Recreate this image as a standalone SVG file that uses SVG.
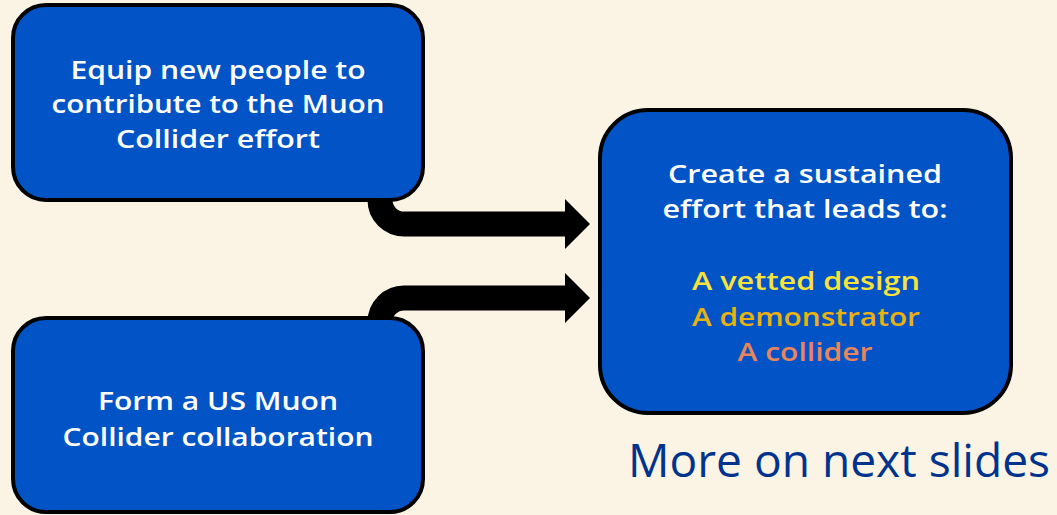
<svg xmlns="http://www.w3.org/2000/svg" width="1057" height="515" viewBox="0 0 1057 515">
<style>
.box{fill:#0254C6;stroke:#000;stroke-width:4}
.t{font-family:"Open Sans","Noto Sans","Liberation Sans",sans-serif;font-size:26px;font-weight:600;text-anchor:middle;fill:#fff}
.conn{fill:none;stroke:#000;stroke-width:25}
.head{fill:#000}
</style>
<rect width="1057" height="515" fill="#FBF3E3"/>
<g id="connectors">
<path class="conn" d="M380,185 L380,200 A24,24 0 0 0 404,224 L567,224"/>
<polygon class="head" points="565,199 590,224 565,249"/>
<path class="conn" d="M380,335 L380,322 A24,24 0 0 1 404,298 L567,298"/>
<polygon class="head" points="565,273 590,298 565,323"/>
</g>
<g id="node-equip">
<rect class="box" x="13" y="5" width="410" height="195" rx="33"/>
<text class="t" x="218" y="79" textLength="295" lengthAdjust="spacingAndGlyphs">Equip new people to</text>
<text class="t" x="218" y="113" textLength="333" lengthAdjust="spacingAndGlyphs">contribute to the Muon</text>
<text class="t" x="218" y="148" textLength="204" lengthAdjust="spacingAndGlyphs">Collider effort</text>
</g>
<g id="node-form">
<rect class="box" x="13" y="318" width="410" height="194" rx="33"/>
<text class="t" x="218" y="410" textLength="240" lengthAdjust="spacingAndGlyphs">Form a US Muon</text>
<text class="t" x="218" y="446" textLength="311" lengthAdjust="spacingAndGlyphs">Collider collaboration</text>
</g>
<g id="node-create">
<rect class="box" x="600" y="110" width="411" height="303" rx="48"/>
<text class="t" x="805" y="183" textLength="274" lengthAdjust="spacingAndGlyphs">Create a sustained</text>
<text class="t" x="805" y="218" textLength="285" lengthAdjust="spacingAndGlyphs">effort that leads to:</text>
<text class="t" x="806" y="290" style="fill:#F9E23A" textLength="228" lengthAdjust="spacingAndGlyphs">A vetted design</text>
<text class="t" x="806" y="326" style="fill:#E9B20E" textLength="228" lengthAdjust="spacingAndGlyphs">A demonstrator</text>
<text class="t" x="805" y="361" style="fill:#E8855C" textLength="135" lengthAdjust="spacingAndGlyphs">A collider</text>
</g>
<text x="628" y="477" font-family="'Open Sans','Noto Sans','Liberation Sans',sans-serif" font-size="46" fill="#00338D" textLength="422" lengthAdjust="spacingAndGlyphs">More on next slides</text>
</svg>
